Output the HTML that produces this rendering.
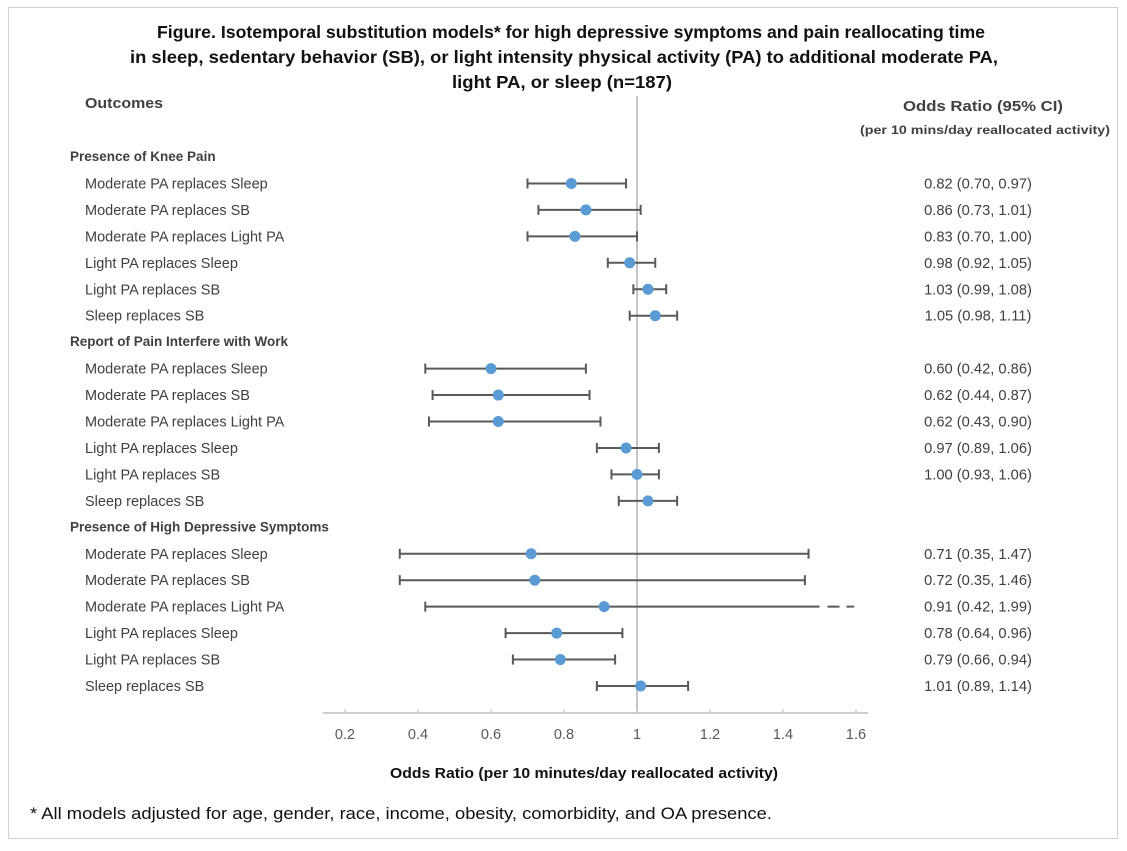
<!DOCTYPE html>
<html><head><meta charset="utf-8"><style>
body{margin:0;background:#fff;width:1127px;height:846px;overflow:hidden;font-family:"Liberation Sans",sans-serif}
svg text{font-family:"Liberation Sans",sans-serif}
</style></head><body>
<svg id="chart" width="1127" height="846">
<rect x="8.5" y="7.5" width="1109" height="831" fill="#fff" stroke="#d0d0d0"/>
<g font-weight="bold" font-size="17.5" fill="#111" text-anchor="middle">
<text x="571" y="38" textLength="828" lengthAdjust="spacingAndGlyphs">Figure. Isotemporal substitution models* for high depressive symptoms and pain reallocating time</text>
<text x="564" y="63" textLength="868" lengthAdjust="spacingAndGlyphs">in sleep, sedentary behavior (SB), or light intensity physical activity (PA) to additional moderate PA,</text>
<text x="562" y="88" textLength="220" lengthAdjust="spacingAndGlyphs">light PA, or sleep (n=187)</text>
</g>
<text x="85" y="108" font-size="14.5" font-weight="bold" fill="#404040" textLength="78" lengthAdjust="spacingAndGlyphs">Outcomes</text>
<text x="903" y="111" font-size="14.5" font-weight="bold" fill="#404040" textLength="160" lengthAdjust="spacingAndGlyphs">Odds Ratio (95% CI)</text>
<text x="860" y="134" font-size="12" font-weight="bold" fill="#404040" textLength="250" lengthAdjust="spacingAndGlyphs">(per 10 mins/day reallocated activity)</text>
<g id="plot"></g>
<text x="390" y="778" font-size="15" font-weight="bold" fill="#111" textLength="388" lengthAdjust="spacingAndGlyphs">Odds Ratio (per 10 minutes/day reallocated activity)</text>
<text x="30" y="819" font-size="17" fill="#111" textLength="742" lengthAdjust="spacingAndGlyphs">* All models adjusted for age, gender, race, income, obesity, comorbidity, and OA presence.</text>
</svg>
<script>
const groups = ["Presence of Knee Pain","Report of Pain Interfere with Work","Presence of High Depressive Symptoms"];
const labels = ["Moderate PA replaces Sleep","Moderate PA replaces SB","Moderate PA replaces Light PA","Light PA replaces Sleep","Light PA replaces SB","Sleep replaces SB"];
const estimates = [0.82,0.86,0.83,0.98,1.03,1.05, 0.60,0.62,0.62,0.97,1.00,1.03, 0.71,0.72,0.91,0.78,0.79,1.01];
const lowers = [0.70,0.73,0.70,0.92,0.99,0.98, 0.42,0.44,0.43,0.89,0.93,0.95, 0.35,0.35,0.42,0.64,0.66,0.89];
const uppers = [0.97,1.01,1.00,1.05,1.08,1.11, 0.86,0.87,0.90,1.06,1.06,1.11, 1.47,1.46,1.99,0.96,0.94,1.14];
const ciText = ["0.82 (0.70, 0.97)","0.86 (0.73, 1.01)","0.83 (0.70, 1.00)","0.98 (0.92, 1.05)","1.03 (0.99, 1.08)","1.05 (0.98, 1.11)",
"0.60 (0.42, 0.86)","0.62 (0.44, 0.87)","0.62 (0.43, 0.90)","0.97 (0.89, 1.06)","1.00 (0.93, 1.06)","",
"0.71 (0.35, 1.47)","0.72 (0.35, 1.46)","0.91 (0.42, 1.99)","0.78 (0.64, 0.96)","0.79 (0.66, 0.94)","1.01 (0.89, 1.14)"];
const ticks = [0.2,0.4,0.6,0.8,1,1.2,1.4,1.6];
const NS="http://www.w3.org/2000/svg";
const g=document.getElementById('plot');
const xs=v=>637+(v-1)*365;
const AXMAX=1.5;
function mk(t,a,txt){const e=document.createElementNS(NS,t);for(const k in a)e.setAttribute(k,a[k]);if(txt!==undefined)e.textContent=txt;g.appendChild(e);return e;}
let ax=mk('line',{x1:323,x2:868,y1:713,y2:713,stroke:'#bfbfbf','stroke-width':1.5});


let ref=mk('line',{x1:xs(1),x2:xs(1),y1:96,y2:713,stroke:'#a6a6a6','stroke-width':1.3});


ticks.forEach(t=>{
 let tk=mk('line',{x1:xs(t),x2:xs(t),y1:709,y2:713,stroke:'#bfbfbf'});
 
 
 let tl=mk('text',{x:xs(t),y:739,'font-size':14.5,fill:'#595959','text-anchor':'middle'},String(t));
 
 
});
const rowH=26.45;
groups.forEach((gn,gi)=>{
 const gy=157+gi*7*rowH;
 let h=mk('text',{x:70,y:gy+4,'font-size':13.5,'font-weight':'bold',fill:'#404040'},gn);
 
 
 labels.forEach((ln,li)=>{
  const i=gi*6+li;
  const y=gy+(li+1)*rowH;
  let t=mk('text',{x:85,y:y+5,'font-size':14.5,fill:'#404040'},ln);
  
  
  const up=Math.min(uppers[i],AXMAX);
  let l=mk('line',{x1:xs(lowers[i]),x2:xs(up),y1:y,y2:y,stroke:'#595959','stroke-width':2});
  
  
  let c1=mk('line',{x1:xs(lowers[i]),x2:xs(lowers[i]),y1:y-5,y2:y+5,stroke:'#595959','stroke-width':2});
  
  
  if(uppers[i]<=AXMAX){
   let c2=mk('line',{x1:xs(up),x2:xs(up),y1:y-5,y2:y+5,stroke:'#595959','stroke-width':2});
   
   
  } else {
   let d=mk('line',{x1:xs(AXMAX)+8,x2:xs(1.595),y1:y,y2:y,stroke:'#595959','stroke-width':2,'stroke-dasharray':'12 7'});
   
   
  }
  let p=mk('circle',{cx:xs(estimates[i]),cy:y,r:5.5,fill:'#5b9bd5'});
  
  
  if(ciText[i]){
   let ct=mk('text',{x:978,y:y+5,'font-size':14.7,fill:'#404040','text-anchor':'middle'},ciText[i]);
   
   
  }
 });
});
</script>
</body></html>
